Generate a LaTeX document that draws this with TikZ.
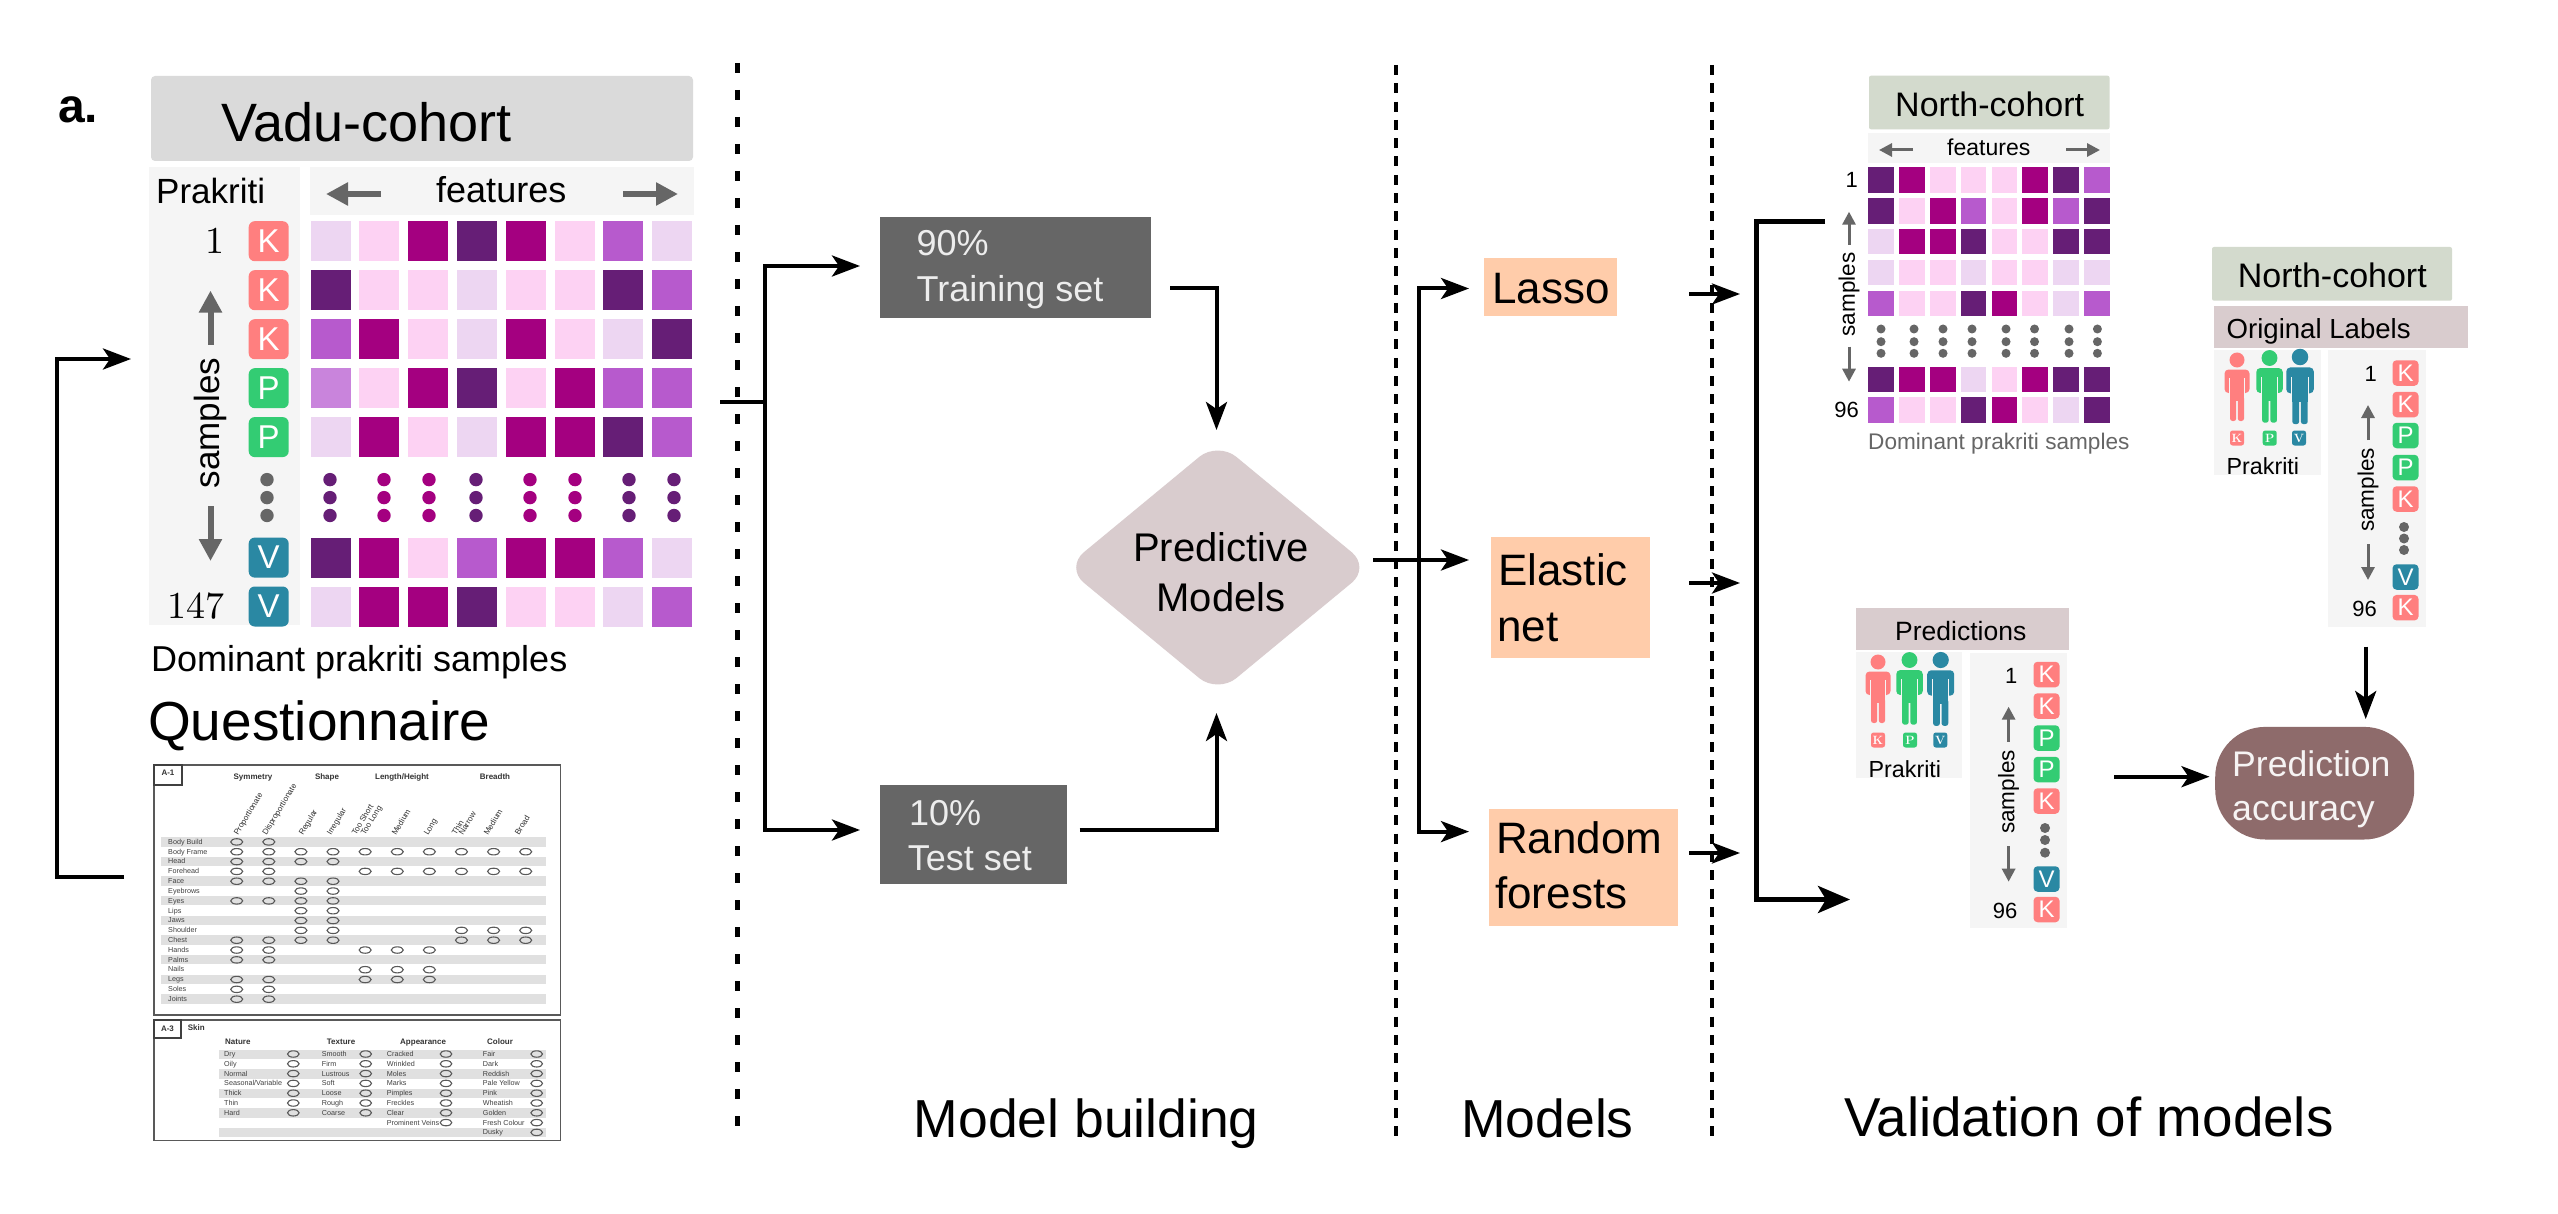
\documentclass[tikz,border=0pt]{standalone}
\usepackage{fontspec}
\setsansfont{Liberation Sans}
\usetikzlibrary{arrows.meta,shapes.geometric}
\definecolor{cL}{HTML}{EDD6F2}
\definecolor{cP}{HTML}{FDD2F3}
\definecolor{cM}{HTML}{A40080}
\definecolor{cD}{HTML}{661E76}
\definecolor{cO}{HTML}{B75ACD}
\definecolor{cC}{HTML}{C984DC}
\definecolor{cK}{HTML}{FF7F7F}
\definecolor{cG}{HTML}{33CC73}
\definecolor{cV}{HTML}{2A88A3}
\definecolor{panelc}{HTML}{F5F5F5}
\definecolor{headc}{HTML}{DADADA}
\definecolor{sagec}{HTML}{D3DACD}
\definecolor{rosec}{HTML}{D9CCCE}
\definecolor{peachc}{HTML}{FFCCAA}
\definecolor{setc}{HTML}{666666}
\definecolor{brownc}{HTML}{8E6B6B}
\definecolor{stripec}{HTML}{E0E0E0}
\newcommand{\fs}[1]{\fontsize{#1}{#1}\selectfont}
\tikzset{
 txt/.style={inner sep=0,anchor=base west,font=\sffamily\fs{#1}},
 txtr/.style={inner sep=0,anchor=base east,font=\sffamily\fs{#1}},
 rottxt/.style={inner sep=0,rotate=90,font=\sffamily\fs{#1}},
 lmnum/.style={inner sep=0,anchor=base east,scale=#1/10,font=\rmfamily\fs{10}},
 conn/.style={draw=black,line width=4pt},
 tipped/.style={conn,-{Stealth[length=28pt,width=21pt,inset=7pt]}},
 bigtip/.style={draw=black,line width=5pt,-{Stealth[length=32pt,width=27pt,inset=8pt]}},
 grayarr/.style={draw=setc,line width=6pt,-{Triangle[length=22pt,width=22pt]}},
 grayarrs/.style={draw=setc,line width=3pt,-{Triangle[length=13pt,width=13pt]}},
 vsep/.style={draw=black,line width=4.5pt},
 oval/.style={draw=black!65,line width=1.1pt},
 qt/.style={inner sep=0,anchor=base west,text=black!75,font=\sffamily\fs{7.2}},
 qb/.style={inner sep=0,anchor=base,text=black!80,font=\sffamily\bfseries\fs{8}},
 qr/.style={inner sep=0,anchor=base west,rotate=59,text=black!80,font=\sffamily\fs{8}},
 pkbig/.style={fill=#1,rounded corners=6pt,minimum width=40pt,minimum height=40pt,inner sep=0,text=white,font=\sffamily\fs{33}},
 pksmall/.style={fill=#1,rounded corners=4pt,minimum width=26pt,minimum height=25.5pt,inner sep=0,text=white,font=\sffamily\fs{24}},
 pktiny/.style={fill=#1,rounded corners=2.5pt,minimum width=14pt,minimum height=15pt,inner sep=0,text=white,font=\rmfamily\bfseries\fs{12}},
 box/.style={inner sep=0,anchor=north west}
}
\newcommand{\prs}[5]{% x, head centre y, scale, colour, panel colour
 \begin{scope}[shift={(#1,#2)},scale=#3]
  \fill[#4] (0,0) circle[radius=7.5];
  \fill[#4,rounded corners=4pt] (-12.5,9.5) rectangle (12.5,33);
  \fill[#4] (-7,12) rectangle (7,41);
  \fill[#4,rounded corners=2.5pt] (-7,36) rectangle (-0.8,61);
  \fill[#4,rounded corners=2.5pt] (0.8,36) rectangle (7,61);
  \fill[#5] (-8,18) rectangle (-7,34);
  \fill[#5] (7,18) rectangle (8,34);
 \end{scope}}
\begin{document}
\begin{tikzpicture}[x=1pt,y=-1pt]
\useasboundingbox (0,0) rectangle (2558,1214);
\fill[white] (0,0) rectangle (2558,1214);

% dotted separators
\coordinate (sa1) at (737.5,63); \coordinate (sa2) at (737.5,1135);
\coordinate (sb1) at (1396,65); \coordinate (sb2) at (1396,1140);
\coordinate (sc1) at (1712,65); \coordinate (sc2) at (1712,1140);
\draw[vsep,dash pattern=on 10pt off 17pt] (sa1) -- (sa2);
\draw[vsep,dash pattern=on 10pt off 8.3pt] (sb1) -- (sb2);
\draw[vsep,dash pattern=on 10pt off 8.3pt] (sc1) -- (sc2);

% ---------- Vadu cohort
\node[txt=48,font=\sffamily\bfseries\fs{48}] (alab) at (58,123) {a.};
\fill[headc,rounded corners=4pt] (151,76) rectangle (693,161);
\node[txt=54] (vadu) at (221,141.6) {Vadu-cohort};
\fill[panelc] (149,167) rectangle (300,625);
\fill[panelc] (310,167) rectangle (694,215);
\node[txt=35] (prak) at (156,204) {Prakriti};
\node[txt=36] (feat) at (436,203) {features};
\coordinate (fl1) at (381,194); \coordinate (fl2) at (326,194);
\coordinate (fr1) at (623,194); \coordinate (fr2) at (678,194);
\draw[grayarr] (fl1) -- (fl2);
\draw[grayarr] (fr1) -- (fr2);
\foreach \yy/\row in {221.2/{cL,cP,cM,cD,cM,cP,cO,cL},270.2/{cD,cP,cP,cL,cP,cP,cD,cO},319.2/{cO,cM,cP,cL,cM,cP,cL,cD},368.2/{cC,cP,cM,cD,cP,cM,cO,cO},417.1/{cL,cM,cP,cL,cM,cM,cD,cO},537.6/{cD,cM,cP,cO,cM,cM,cO,cL},586.5/{cL,cM,cM,cD,cP,cP,cL,cO}}{
 \foreach \c [count=\i from 0] in \row {\fill[\c] ({310.5+48.8*\i},\yy) rectangle ++(40,40);}
}
\foreach \xx/\c in {330/cD,384/cM,429/cM,476/cD,530/cM,575/cM,629/cD,674/cD}{
 \foreach \yy in {479.6,497.6,515.5}{\fill[\c] (\xx,\yy) circle[radius=6.7];}
}
\foreach \yy in {479.6,497.6,515.5}{\fill[setc] (267,\yy) circle[radius=6.7];}
\foreach \yy/\c/\t [count=\i] in {241.2/cK/K,290.2/cK/K,339.2/cK/K,388.2/cG/P,437.1/cG/P,557.6/cV/V,606.5/cV/V}{
 \node[pkbig=\c] (va\i) at (268.7,\yy) {\t};
}
\node[lmnum=38] (vone) at (225,254) {1};
\node[lmnum=38] (vend) at (225,618) {147};
\node[rottxt=35] (vsam) at (210.5,423) {samples};
\coordinate (vu1) at (210.5,345); \coordinate (vu2) at (210.5,290.6);
\coordinate (vd1) at (210.5,506); \coordinate (vd2) at (210.5,561);
\draw[grayarr] (vu1) -- (vu2);
\draw[grayarr] (vd1) -- (vd2);
\node[txt=36] (vdom) at (151,671) {Dominant prakriti samples};
\node[txt=55] (ques) at (148,740) {Questionnaire};

% ---------- Questionnaire sheet A-1
\draw[black!65,line width=1.3pt,fill=white] (154,765) rectangle (560.7,1015);
\draw[black!75,line width=1.3pt] (154,765) rectangle (182,785);
\node[qb] (qa1) at (168,775) {A-1};
\node[qb] (qh1) at (253,779) {Symmetry};
\node[qb] (qh2) at (327,779) {Shape};
\node[qb] (qh3) at (402,779) {Length/Height};
\node[qb] (qh4) at (495,779) {Breadth};
\foreach \xx/\t [count=\i] in {238/Proportionate,266.5/Disproportionate,303/Regular,331/Irregular,356/Too Short /,365/Too Long,396/Medium,428/Long,456/Thin /,463/Narrow,488/Medium,519/Broad}{
 \node[qr] (qc\i) at (\xx,836) {\t};
}
\foreach \r in {0,2,...,16}{\fill[stripec] (160.7,{837+9.83*\r}) rectangle (546,{846.5+9.83*\r});}
\foreach \nm/\cols [count=\r from 0] in {Body Build/{1,2},Body Frame/{1,2,3,4,5,6,7,8,9,10},Head/{1,2,3,4},Forehead/{1,2,5,6,7,8,9,10},Face/{1,2,3,4},Eyebrows/{3,4},Eyes/{1,2,3,4},Lips/{3,4},Jaws/{3,4},Shoulder/{3,4,8,9,10},Chest/{1,2,3,4,8,9,10},Hands/{1,2,5,6,7},Palms/{1,2},Nails/{5,6,7},Legs/{1,2,5,6,7},Soles/{1,2},Joints/{1,2}}{
 \node[qt] (qn\r) at (168,{844.2+9.83*\r}) {\nm};
 \foreach \c in \cols {\draw[oval] ({204.6+32.11*\c},{841.9+9.83*\r}) ellipse[x radius=6,y radius=3.2];}
}

% ---------- Questionnaire sheet A-3
\draw[black!65,line width=1.3pt,fill=white] (154,1020) rectangle (560.7,1140.7);
\draw[black!75,line width=1.3pt] (154,1020) rectangle (181,1038);
\node[qb] (qa3) at (167.5,1031) {A-3};
\node[qb,anchor=base west] (qskin) at (187.7,1030) {Skin};
\node[qb,anchor=base west] (qt1) at (225,1044.5) {Nature};
\node[qb,anchor=base west] (qt2) at (326.7,1044.5) {Texture};
\node[qb,anchor=base west] (qt3) at (400,1044.5) {Appearance};
\node[qb,anchor=base west] (qt4) at (487,1044.5) {Colour};
\foreach \r in {0,2,4,6,8}{\fill[stripec] (219,{1049.5+9.8*\r}) rectangle (546,{1059+9.8*\r});}
\foreach \nx/\ox/\names [count=\k] in {224/293.3/{Dry,Oily,Normal,Seasonal/Variable,Thick,Thin,Hard},321.7/365.7/{Smooth,Firm,Lustrous,Soft,Loose,Rough,Coarse},386.7/446/{Cracked,Wrinkled,Moles,Marks,Pimples,Freckles,Clear,Prominent Veins},482.7/536.7/{Fair,Dark,Reddish,Pale Yellow,Pink,Wheatish,Golden,Fresh Colour,Dusky}}{
 \foreach \nm [count=\r from 0] in \names {
  \node[qt] (qs\k n\r) at (\nx,{1056.5+9.8*\r}) {\nm};
  \draw[oval] (\ox,{1054+9.8*\r}) ellipse[x radius=5.8,y radius=3.2];
 }
}

% loop-back connector
\coordinate (qout) at (124,877);
\coordinate (qcorner) at (57,877);
\coordinate (vin) at (131,359);
\draw[tipped,rounded corners=0pt] (qout) -- (qcorner) |- (vin);

% ---------- Model building
\node[box,fill=setc,minimum width=271.5pt,minimum height=101pt] (train) at (879.5,217) {};
\node[txt=36,text=white!93!black] (train1) at (916.5,256) {90\%};
\node[txt=36,text=white!93!black] (train2) at (916.5,302) {Training set};
\node[box,fill=setc,minimum width=187.5pt,minimum height=99pt] (test) at (879.5,785) {};
\node[txt=36,text=white!93!black] (test1) at (909,825) {10\%};
\node[txt=36,text=white!93!black] (test2) at (907.6,870) {Test set};
\node[diamond,fill=rosec,rounded corners=24pt,minimum width=305pt,minimum height=252pt,inner sep=0] (pm) at (1217.8,567.5) {};
\node[inner sep=0,anchor=base,font=\sffamily\fs{40}] (pm1) at (1221,561) {Predictive};
\node[inner sep=0,anchor=base,font=\sffamily\fs{40}] (pm2) at (1221,611.6) {Models};

\coordinate (splitin) at (720,401.7);
\coordinate (split) at (764.7,401.7);
\coordinate (trainin) at (860,266);
\coordinate (testin) at (860,830);
\draw[conn] (splitin) -- (split);
\draw[tipped] (split) |- (trainin);
\draw[tipped] (split) |- (testin);
\coordinate (trainout) at (1170,288.5);
\coordinate (pmtop) at (1216.5,430);
\coordinate (testout) at (1079.5,830);
\coordinate (pmbot) at (1216.5,713);
\draw[tipped] (trainout) -| (pmtop);
\draw[tipped] (testout) -| (pmbot);

% ---------- Models
\node[box,fill=peachc,minimum width=133pt,minimum height=58pt] (lasso) at (1484,258) {};
\node[txt=44] (lassot) at (1492,304) {Lasso};
\node[box,fill=peachc,minimum width=159pt,minimum height=121pt] (elastic) at (1491,537) {};
\node[txt=44] (elastict1) at (1498,585) {Elastic};
\node[txt=44] (elastict2) at (1497,641) {net};
\node[box,fill=peachc,minimum width=189pt,minimum height=117.5pt] (forest) at (1489,808.6) {};
\node[txt=44] (forestt1) at (1496,853) {Random};
\node[txt=44] (forestt2) at (1495,908) {forests};

\coordinate (pmout) at (1373,560);
\coordinate (msplit) at (1419,560);
\coordinate (lassoin) at (1469,288.5);
\coordinate (elasticin) at (1469,560);
\coordinate (forestin) at (1469,831.6);
\draw[tipped] (pmout) -- (elasticin);
\draw[tipped] (msplit) |- (lassoin);
\draw[tipped] (msplit) |- (forestin);

\foreach \nm/\yy in {la/294,el/583,fo/853}{
 \coordinate (\nm s) at (1689,\yy);
 \coordinate (\nm e) at (1740,\yy);
 \draw[tipped] (\nm s) -- (\nm e);
}

% big bracket
\coordinate (brtop) at (1825,221.5);
\coordinate (brmid) at (1756.7,221.5);
\coordinate (brend) at (1850,899.5);
\draw[bigtip] (brtop) -- (brmid) |- (brend);

% ---------- North cohort matrix
\fill[sagec,rounded corners=2pt] (1869,75.7) rectangle (2109.5,129.3);
\node[txt=34] (north1) at (1895,117) {North-cohort};
\fill[panelc] (1868,133) rectangle (2109.5,163);
\node[txt=23] (nfeat) at (1947,156) {features};
\coordinate (nfl1) at (1913,150); \coordinate (nfl2) at (1879,150);
\coordinate (nfr1) at (2066,150); \coordinate (nfr2) at (2100,150);
\draw[grayarrs] (nfl1) -- (nfl2);
\draw[grayarrs] (nfr1) -- (nfr2);
\foreach \yy/\row in {167.3/{cD,cM,cP,cP,cP,cM,cD,cO},198.3/{cD,cP,cM,cO,cP,cM,cO,cD},229/{cL,cM,cM,cD,cP,cP,cD,cD},260/{cL,cP,cP,cL,cP,cP,cL,cL},290.7/{cO,cP,cP,cD,cM,cP,cL,cO},366.7/{cD,cM,cM,cL,cP,cM,cD,cD},397.3/{cO,cP,cP,cD,cM,cP,cL,cD}}{
 \foreach \c [count=\i from 0] in \row {\fill[\c] ({1868.4+30.8*\i},\yy) rectangle ++(25.5,25.5);}
}
\foreach \xx in {1881,1914,1943,1972,2006,2034.5,2069,2097.4}{
 \foreach \yy in {329,341.7,353.3}{\fill[setc] (\xx,\yy) circle[radius=4.5];}
}
\node[txtr=22] (none) at (1858,188) {1};
\node[txtr=22] (nend) at (1859,417) {96};
\node[rottxt=22.5] (nsam) at (1849,294.5) {samples};
\coordinate (nu1) at (1849,245); \coordinate (nu2) at (1849,211.7);
\coordinate (nd1) at (1849,346.7); \coordinate (nd2) at (1849,381.7);
\draw[grayarrs] (nu1) -- (nu2);
\draw[grayarrs] (nd1) -- (nd2);
\node[txt=22.6,text=black!60] (ndom) at (1868,449) {Dominant prakriti samples};

% ---------- North cohort original labels
\fill[sagec,rounded corners=2pt] (2212,247) rectangle (2452,300.7);
\node[txt=34] (north2) at (2237.6,288) {North-cohort};
\node[box,fill=rosec,minimum width=254pt,minimum height=42.6pt] (orig) at (2214,305.7) {};
\node[txt=27.6] (origt) at (2226.4,338) {Original Labels};
\fill[panelc] (2214,350) rectangle (2321,475);
\fill[panelc] (2328,350) rectangle (2426,627);
\prs{2237}{360}{1}{cK}{panelc}
\prs{2269.5}{358}{1.06}{cG}{panelc}
\prs{2300}{357}{1.1}{cV}{panelc}
\node[pktiny=cK] (ot1) at (2237,438) {K};
\node[pktiny=cG] (ot2) at (2269.7,438) {P};
\node[pktiny=cV] (ot3) at (2299,438) {V};
\node[txt=23.3] (oprak) at (2226.4,474) {Prakriti};
\foreach \yy/\c/\t [count=\i] in {373/cK/K,404.5/cK/K,435.5/cG/P,467.5/cG/P,499/cK/K,577/cV/V,607.7/cK/K}{
 \node[pksmall=\c] (ol\i) at (2405.5,\yy) {\t};
}
\foreach \yy in {527,538.5,550}{\fill[setc] (2404,\yy) circle[radius=5];}
\node[txtr=22] (oone) at (2377,381.7) {1};
\node[txtr=22] (oend) at (2377,616) {96};
\node[rottxt=22.5] (osam) at (2368,490) {samples};
\coordinate (ou1) at (2368,440); \coordinate (ou2) at (2368,405);
\coordinate (od1) at (2368,544); \coordinate (od2) at (2368,580);
\draw[grayarrs] (ou1) -- (ou2);
\draw[grayarrs] (od1) -- (od2);

% ---------- Predictions
\node[box,fill=rosec,minimum width=213pt,minimum height=41.6pt] (pred) at (1856,607.7) {};
\node[txt=26.5] (predt) at (1895,640) {Predictions};
\fill[panelc] (1856,652) rectangle (1962,777.7);
\fill[panelc] (1970,653) rectangle (2067,928);
\prs{1878}{662}{1}{cK}{panelc}
\prs{1909.5}{660}{1.06}{cG}{panelc}
\prs{1940.7}{660}{1.08}{cV}{panelc}
\node[pktiny=cK] (pt1) at (1878,740) {K};
\node[pktiny=cG] (pt2) at (1910,740) {P};
\node[pktiny=cV] (pt3) at (1940.3,740) {V};
\node[txt=23.3] (pprak) at (1868.4,777) {Prakriti};
\foreach \yy/\c/\t [count=\i] in {674.5/cK/K,706/cK/K,738/cG/P,769.5/cG/P,801/cK/K,879/cV/V,909.5/cK/K}{
 \node[pksmall=\c] (pl\i) at (2046.5,\yy) {\t};
}
\foreach \yy in {828,840,852.7}{\fill[setc] (2045,\yy) circle[radius=5];}
\node[txtr=22] (pone) at (2017.5,683) {1};
\node[txtr=22] (pend) at (2017.5,918) {96};
\node[rottxt=22.5] (psam) at (2008.6,792) {samples};
\coordinate (pu1) at (2008.6,741.7); \coordinate (pu2) at (2008.6,706.7);
\coordinate (pd1) at (2008.6,846); \coordinate (pd2) at (2008.6,881.7);
\draw[grayarrs] (pu1) -- (pu2);
\draw[grayarrs] (pd1) -- (pd2);

% ---------- Prediction accuracy
\node[box,fill=brownc,rounded corners=50pt,minimum width=199pt,minimum height=112.6pt] (acc) at (2215,726.7) {};
\node[txt=35.6,text=white!92!brownc] (acc1) at (2232,776) {Prediction};
\node[txt=35.6,text=white!92!brownc] (acc2) at (2232,820) {accuracy};
\coordinate (oout) at (2365.7,646.7);
\coordinate (accin) at (2365.7,719);
\draw[tipped] (oout) -- (accin);
\coordinate (pout) at (2114,776.7);
\coordinate (accl) at (2209.5,776.7);
\draw[tipped] (pout) -- (accl);

% ---------- Section titles
\node[txt=53.5] (tmb) at (913.6,1137) {Model building};
\node[txt=53.5] (tm) at (1461,1137) {Models};
\node[txt=54.8] (tv) at (1844,1136) {Validation of models};
\end{tikzpicture}
\end{document}
